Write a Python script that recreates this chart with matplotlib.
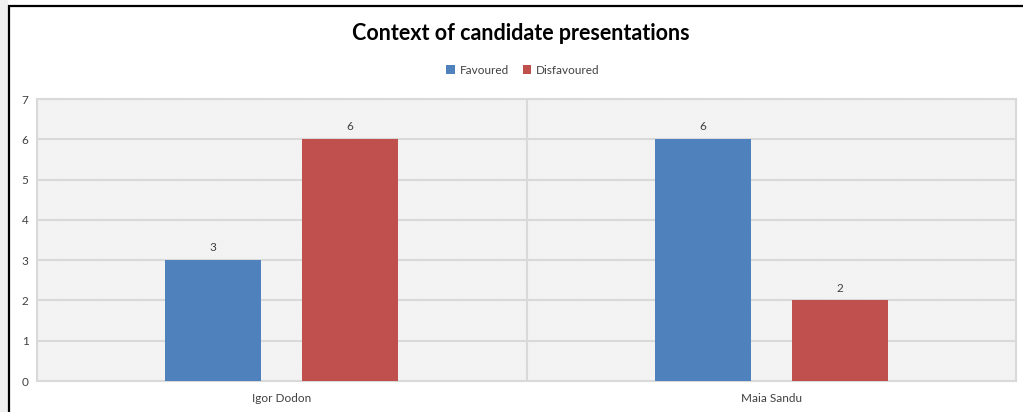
import matplotlib
matplotlib.use("Agg")
import matplotlib.pyplot as plt
from matplotlib.patches import Rectangle
import numpy as np

categories = ["Igor Dodon", "Maia Sandu"]
series_names = ["Favoured", "Disfavoured"]
favoured = [3, 6]
disfavoured = [6, 2]
colors = ["#4f81bd", "#c0504d"]
y_ticks = [0, 1, 2, 3, 4, 5, 6, 7]

plt.rcParams['font.family'] = ['Lato', 'DejaVu Sans']
plt.rcParams['hatch.linewidth'] = 0.35

W, H = 1023, 412
fig = plt.figure(figsize=(W / 100, H / 100), dpi=100, facecolor="white")

# left gray strip + black frame
fig.patches.append(Rectangle((0, 0), 8 / W, 1, transform=fig.transFigure,
                             facecolor="#f0f0f0", edgecolor="none", zorder=0))
fig.patches.append(Rectangle((9 / W, -0.1), 1.2, (H - 6) / H + 0.1, transform=fig.transFigure,
                             facecolor="none", edgecolor="black", linewidth=1.6, zorder=1))

x0, x1 = 37, 1016
y_top, y_bot = 99, 381
ax = fig.add_axes([x0 / W, 1 - y_bot / H, (x1 - x0) / W, (y_bot - y_top) / H])
ax.set_facecolor("white")
ax.add_patch(Rectangle((0, 0), 1, 1, transform=ax.transAxes, facecolor="white",
                       edgecolor="#e2e2e2", hatch="\\" * 20, linewidth=0, zorder=0))

x = np.arange(len(categories))
bw = 0.196
off = 0.14
ax.bar(x - off, favoured, bw, color=colors[0], label=series_names[0], zorder=3)
ax.bar(x + off, disfavoured, bw, color=colors[1], label=series_names[1], zorder=3)

for xi, v in zip(x - off, favoured):
    ax.text(xi, v + 0.17, str(v), ha="center", va="bottom", fontsize=8.5, color="#404040")
for xi, v in zip(x + off, disfavoured):
    ax.text(xi, v + 0.17, str(v), ha="center", va="bottom", fontsize=8.5, color="#404040")

ax.set_xlim(-0.5, 1.5)
ax.set_ylim(0, 7)
ax.set_yticks(y_ticks)
ax.set_yticklabels([str(t) for t in y_ticks], fontsize=8.5, color="#404040")
ax.set_xticks(x)
ax.set_xticklabels(categories, fontsize=8.5, color="#404040")
ax.tick_params(axis="both", length=0)
ax.tick_params(axis="y", pad=6)
ax.tick_params(axis="x", pad=9)

for t in y_ticks[1:]:
    ax.axhline(t, color="#d9d9d9", linewidth=1.5, zorder=1)
ax.axvline(0.5, color="#d9d9d9", linewidth=1.5, zorder=1)

for s in ax.spines.values():
    s.set_color("#d9d9d9")
    s.set_linewidth(1.5)

fig.text(521 / W, 1 - 33 / H, "Context of candidate presentations", ha="center", va="center",
         fontsize=15.5, fontweight="bold", color="black")

leg = fig.legend(loc="center", bbox_to_anchor=(523 / W, 1 - 70 / H), ncol=2, frameon=False,
                 fontsize=8.5, handlelength=0.7, handleheight=0.7, handletextpad=0.4,
                 columnspacing=1.2, labelcolor="#404040")

fig.savefig("out.png", dpi=100)
